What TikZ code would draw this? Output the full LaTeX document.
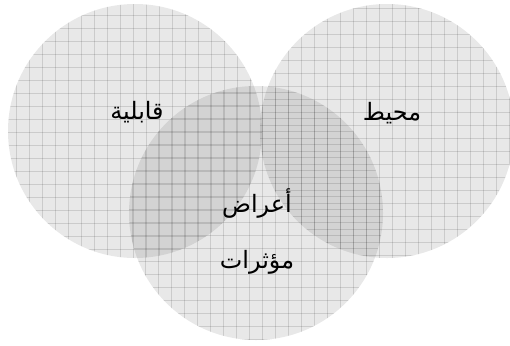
\documentclass[tikz,border=0pt]{standalone}
\usepackage{fontspec}
\TeXXeTstate=1
\newfontfamily\arabicfont[Script=Arabic]{DejaVu Sans}
\tikzset{
  venn/.style={fill=black, fill opacity=0.09},
  gridline/.style={draw=black, draw opacity=0.12, line width=0.6bp},
  lbl/.style={font=\arabicfont\fontsize{24}{28}\selectfont, text=black, inner sep=0pt}
}
\begin{document}
\begin{tikzpicture}[x=1bp,y=-1bp]
\useasboundingbox (0,0) rectangle (510,345);
\fill[white] (0,0) rectangle (510,345);
% circles
\coordinate (cl) at (135,131);
\coordinate (cr) at (387,131);
\coordinate (cb) at (256,213);
\fill[venn] (cl) circle[radius=127];
\fill[venn] (cr) circle[radius=127];
\fill[venn] (cb) circle[radius=127];
% grids
\begin{scope}
\clip (cl) circle[radius=127];
\foreach \k in {0,...,21} {
  \draw[gridline] ({3+13*\k},0) -- ({3+13*\k},345);
  \draw[gridline] (0,{2+13*\k}) -- (510,{2+13*\k});
}
\end{scope}
\begin{scope}
\clip (cr) circle[radius=127];
\foreach \k in {0,...,21} {
  \draw[gridline] ({262+13*\k},0) -- ({262+13*\k},345);
  \draw[gridline] (0,{8+13*\k}) -- (510,{8+13*\k});
}
\end{scope}
\begin{scope}
\clip (cb) circle[radius=127];
\foreach \k in {0,...,21} {
  \draw[gridline] ({132+13*\k},0) -- ({132+13*\k},345);
  \draw[gridline] (0,{92+13*\k}) -- (510,{92+13*\k});
}
\end{scope}
% labels
\node[lbl] (qab) at (137,112) {\beginR قابلية\endR};
\node[lbl] (muh) at (392,113) {\beginR محيط\endR};
\node[lbl] (aar) at (257,203) {\beginR أعراض\endR};
\node[lbl] (mua) at (257,262) {\beginR مؤثرات\endR};
\end{tikzpicture}
\end{document}
